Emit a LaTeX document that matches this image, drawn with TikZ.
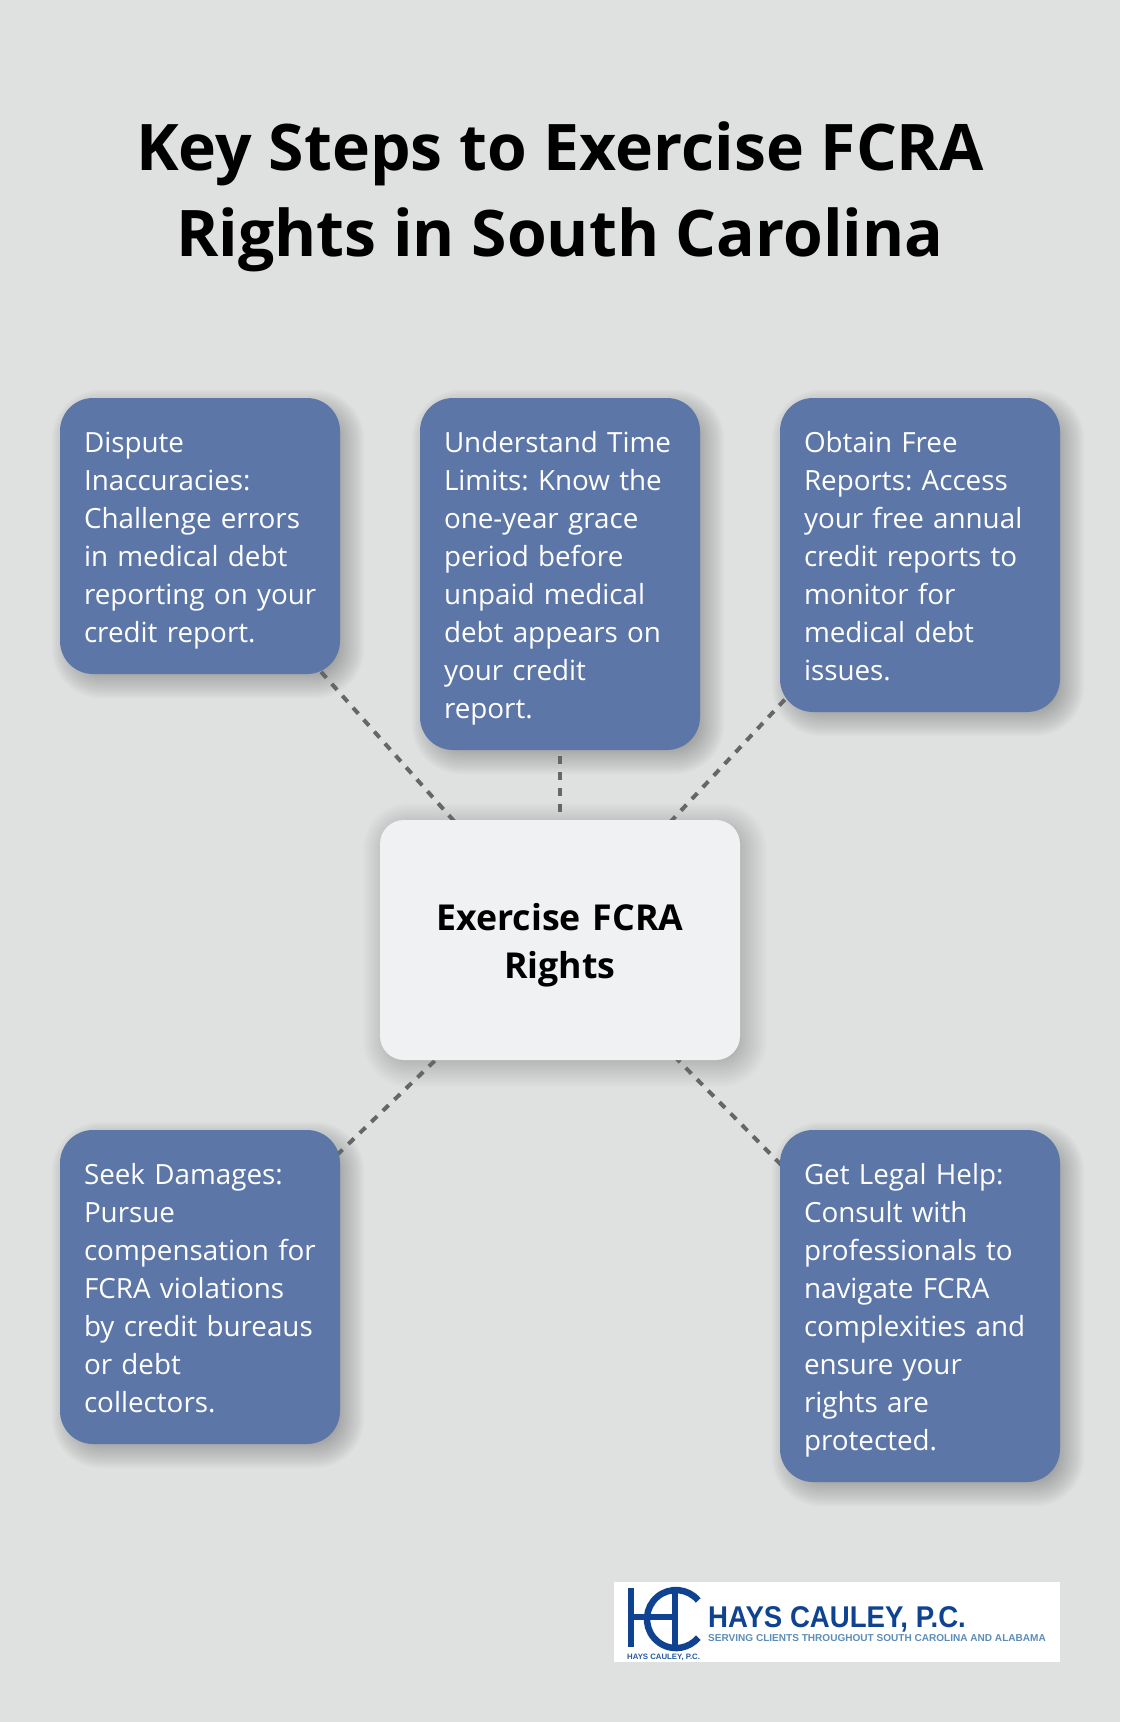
\documentclass[tikz,border=0pt]{standalone}
\usepackage{fontspec}
\setmainfont{Open Sans}
\newfontfamily\logofont[FakeStretch=0.92]{Liberation Sans}
\newfontfamily\logotagfont{Liberation Sans}
\usetikzlibrary{calc}
\pgfdeclarelayer{pagelayer}
\pgfdeclarelayer{shadowlayer}
\pgfdeclarelayer{linelayer}
\pgfsetlayers{pagelayer,shadowlayer,linelayer,main}
\definecolor{pagebg}{HTML}{DFE1E0}
\definecolor{boxblue}{HTML}{5D76A8}
\definecolor{centerbox}{HTML}{EFF1F3}
\definecolor{dashc}{HTML}{666666}
\definecolor{logoblue}{HTML}{0F4392}
\definecolor{logolight}{HTML}{5C8DB8}
\newcommand{\bstrut}{\leavevmode\vrule width 0pt height 30.6pt depth 7.4pt\relax}
\tikzset{
  x=1pt,y=-1pt,
  infobox/.style={rectangle,rounded corners=33pt,fill=boxblue,text=white,minimum width=280pt,text width=280pt,inner sep=0pt,
    font=\fontsize{27.8}{38}\selectfont,
    execute at begin node={\frenchspacing\hyphenpenalty=10000\parindent=0pt\leftskip=24pt\rightskip=0pt plus 1fil\relax\bstrut},
    execute at end node={\bstrut}},
  hubbox/.style={rectangle,rounded corners=24pt,fill=centerbox,text=black,minimum width=360pt,minimum height=240pt,text width=300pt,inner sep=0pt,align=center,font=\fontsize{35.7}{48}\selectfont\bfseries,
    execute at begin node={\vrule width 0pt height 38pt depth 0pt\relax}},
  spoke/.style={dashc,line width=4pt,dash pattern=on 8pt off 8pt},
  mono/.style={logoblue,line width=6.5pt},
}
\newcommand{\softshadow}[8]{% x1 y1 x2 y2 radius offset range opacity
  \begin{pgfonlayer}{shadowlayer}
  \pgfmathtruncatemacro{\gnext}{#7-2}
  \pgfmathtruncatemacro{\gend}{-#7}
  \foreach \g in {#7,\gnext,...,\gend}{
    \fill[black,opacity=#8,rounded corners={max(#5+\g,2)*1pt}]
      (#1+#6-\g,#2+#6-\g) rectangle (#3+#6+\g,#4+#6+\g);
  }
  \end{pgfonlayer}
}
\begin{document}
\begin{tikzpicture}
\begin{pgfonlayer}{pagelayer}
\fill[pagebg] (0,0) rectangle (1120,1722);
\end{pgfonlayer}
\useasboundingbox (0,0) rectangle (1120,1722);
\node[font=\fontsize{64.25}{86}\selectfont\bfseries,align=center,text=black] (title) at (560,196.5) {Key Steps to Exercise FCRA\\Rights in South Carolina};

\softshadow{60}{398}{340}{674}{33}{8}{16}{0.02}
\softshadow{420}{398}{700}{750}{33}{8}{16}{0.02}
\softshadow{780}{398}{1060}{712}{33}{8}{16}{0.02}
\softshadow{60}{1130}{340}{1444}{33}{8}{16}{0.02}
\softshadow{780}{1130}{1060}{1482}{33}{8}{16}{0.02}
\softshadow{380}{820}{740}{1060}{24}{5}{22}{0.011}

\node[infobox,minimum height=276pt] (dispute) at (200,536) {Dispute\\Inaccuracies:\\Challenge errors\\in medical debt\\reporting on your\\credit report.};
\node[infobox,minimum height=352pt] (limits) at (560,574) {Understand Time\\Limits: Know the\\one-year grace\\period before\\unpaid medical\\debt appears on\\your credit\\report.};
\node[infobox,minimum height=314pt] (reports) at (920,555) {Obtain Free\\Reports: Access\\your free annual\\credit reports to\\monitor for\\medical debt\\issues.};
\node[hubbox] (hub) at (560,940) {Exercise FCRA\\Rights};
\node[infobox,minimum height=314pt] (damages) at (200,1287) {Seek Damages:\\Pursue\\compensation for\\FCRA violations\\by credit bureaus\\or debt\\collectors.};
\node[infobox,minimum height=352pt] (legal) at (920,1306) {Get Legal Help:\\Consult with\\professionals to\\navigate FCRA\\complexities and\\ensure your\\rights are\\protected.};

\begin{pgfonlayer}{linelayer}
\foreach \n/\ph in {dispute/10,limits/10,reports/10,damages/2,legal/10}{
  \draw[spoke,dash phase=\ph pt] (\n.center) -- (hub.center);
}
\end{pgfonlayer}

\node[fill=white,minimum width=446pt,minimum height=80pt,inner sep=0pt] (logo) at (837,1622) {};
\draw[mono] (630.8,1588) -- (630.8,1647);
\draw[mono] (630.8,1617) -- (676,1617);
\draw[mono] (675,1590) -- (675,1649);
\draw[mono] (698.2,1600.4) arc[start angle=40,end angle=320,radius=29pt];
\node[anchor=west,inner sep=0pt,font=\logofont\bfseries\fontsize{30}{30}\selectfont,text=logoblue] (logoname) at (708,1619) {HAYS CAULEY, P.C.};
\node[anchor=west,inner sep=0pt,font=\logotagfont\bfseries\fontsize{10.05}{10.05}\selectfont,text=logolight] (logotag) at (708,1638.5) {SERVING CLIENTS THROUGHOUT SOUTH CAROLINA AND ALABAMA};
\node[anchor=west,inner sep=0pt,font=\logotagfont\bfseries\fontsize{7.8}{7.8}\selectfont,text=logoblue!70!logolight] (logosmall) at (627,1657) {HAYS CAULEY, P.C.};
\end{tikzpicture}
\end{document}
